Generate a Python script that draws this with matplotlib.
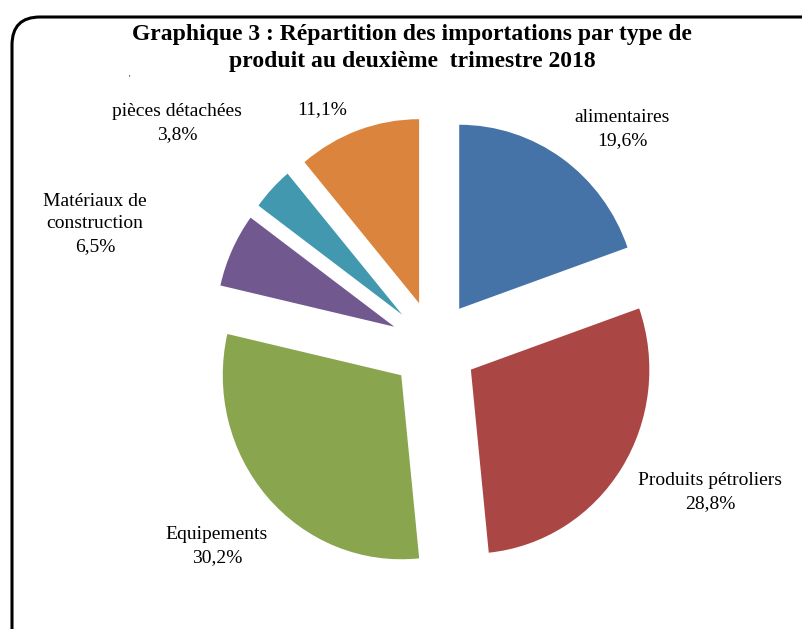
import matplotlib.pyplot as plt
from matplotlib.patches import FancyBboxPatch

categories = ["alimentaires", "Produits pétroliers", "Equipements",
              "Matériaux de\nconstruction", "pièces détachées", ""]
values = [19.6, 28.8, 30.2, 6.5, 3.8, 11.1]
colors = ["#4572A7", "#AA4643", "#89A54E", "#71588F", "#4198AF", "#DB843D"]

# label centres in pixel coords (x from left, y from top)
label_pos = [(622, 129), (710, 492), (217, 546), (95, 224), (177, 123), (322, 110)]

W, H = 803, 629
cx, cy = 434, H - 345.5
sx = 0.97  # the original pie is slightly squeezed horizontally

fig = plt.figure(figsize=(W / 100, H / 100), dpi=100)
ax = fig.add_axes([0, 0, 1, 1])

# explode is in data units (pixels here)
ax.pie(values, colors=colors, startangle=90, counterclock=False,
       center=(cx, cy), radius=184,
       explode=[45] * len(values),
       wedgeprops={"linewidth": 0}, frame=True)
ax.set_aspect("auto")
ax.set_xlim(cx - cx / sx, cx + (W - cx) / sx)
ax.set_ylim(0, H)
ax.axis("off")

# rounded frame, cut by the image edges
frame = FancyBboxPatch((12, -60), 840, H - 15 + 60 - 2,
                       boxstyle="round,pad=0,rounding_size=28",
                       transform=None, fill=False, edgecolor="black",
                       linewidth=2.2)
fig.patches.append(frame)

for cat, val, (x, y) in zip(categories, values, label_pos):
    pct = f"{val:.1f}%".replace(".", ",")
    txt = f"{cat}\n{pct}" if cat else pct
    fig.text(x / W, 1 - y / H, txt, ha="center", va="center", fontsize=14,
             family="Liberation Serif", linespacing=1.4)

fig.text(129 / W, 1 - 79 / H, "'", ha="center", va="center", fontsize=6,
         family="Liberation Serif")

fig.text(412 / W, 1 - 48 / H,
         "Graphique 3 : Répartition des importations par type de\n"
         "produit au deuxième  trimestre 2018",
         ha="center", va="center", fontsize=17, fontweight="bold",
         family="Liberation Serif", linespacing=1.35)

fig.savefig("out.png", dpi=100)
